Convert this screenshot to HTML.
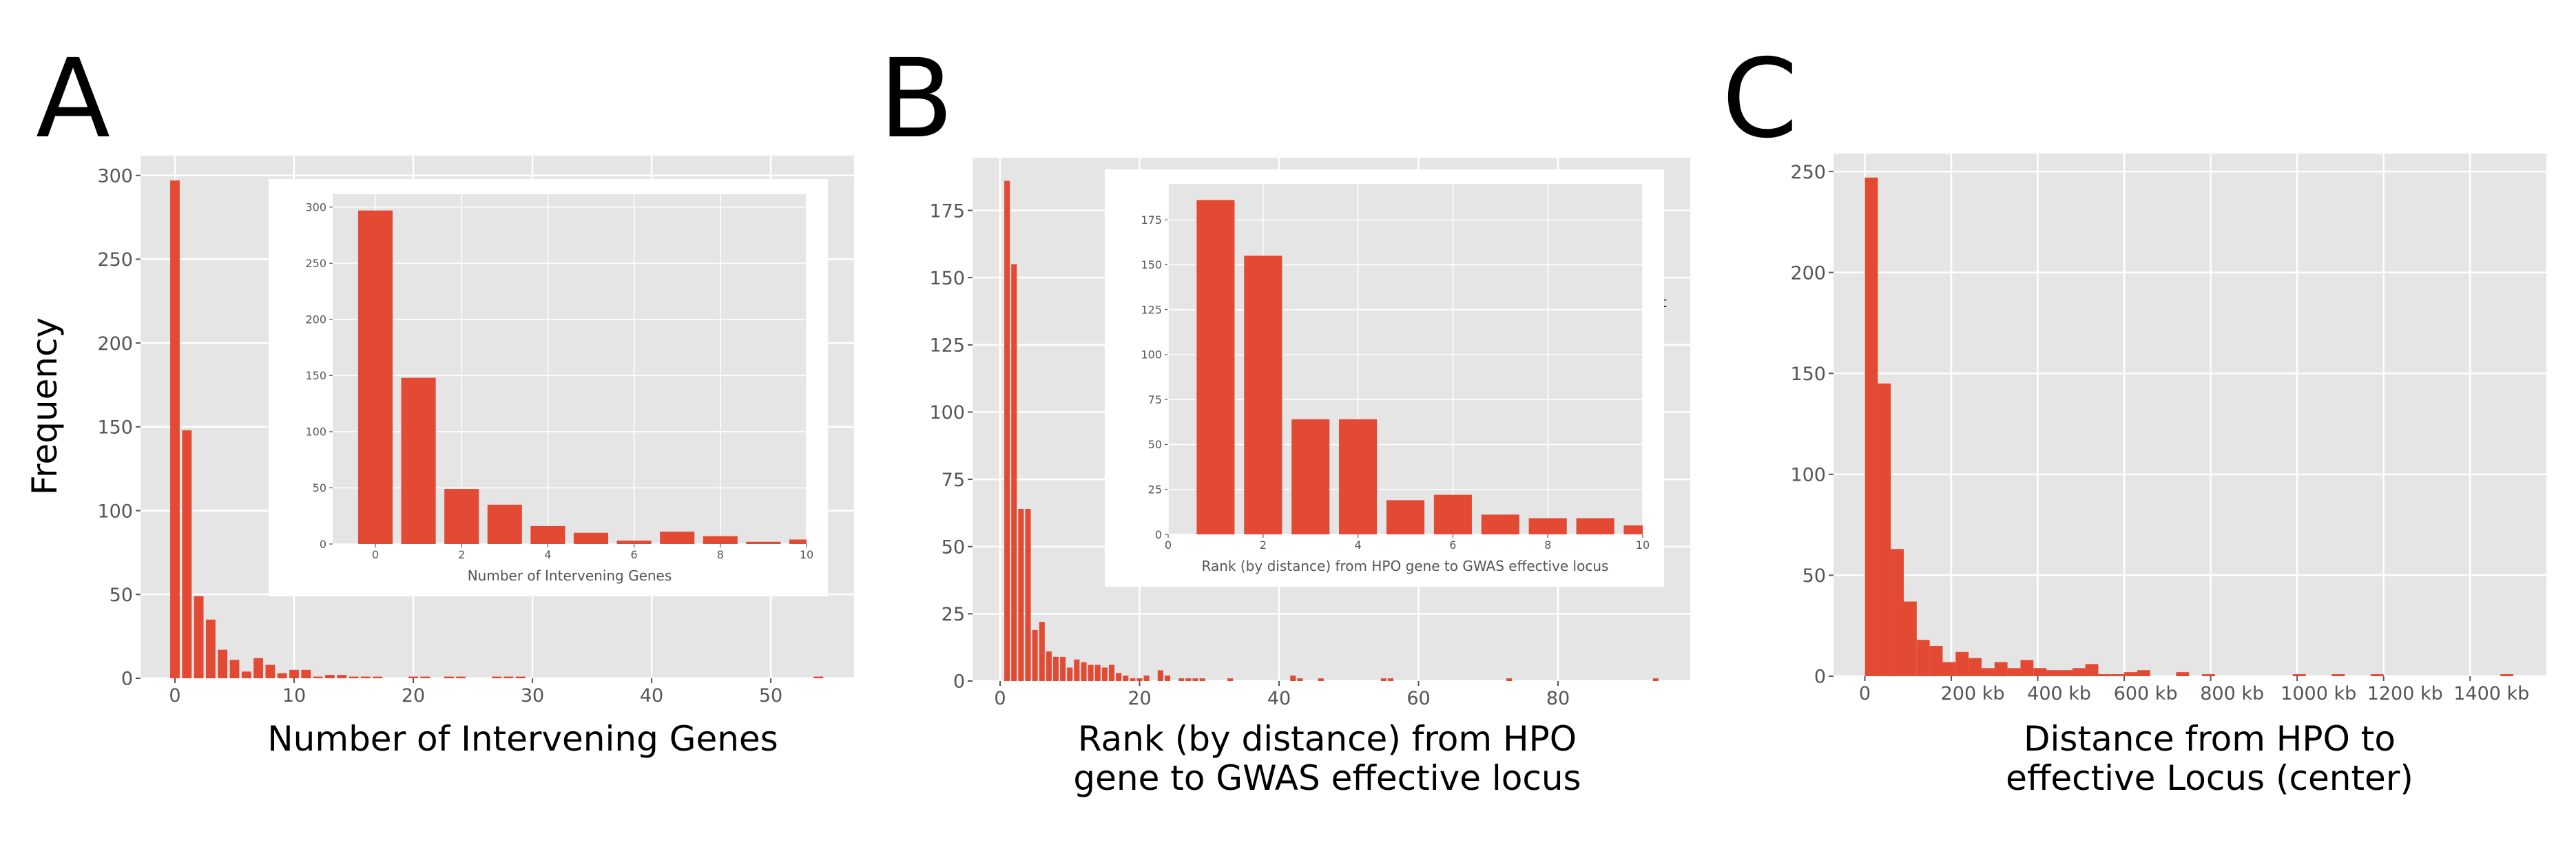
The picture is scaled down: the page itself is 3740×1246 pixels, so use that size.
<!DOCTYPE html>
<html><head><meta charset="utf-8">
<style>
html,body{margin:0;padding:0;background:#fff;}
svg{display:block;font-family:"DejaVu Sans","Liberation Sans",sans-serif;}
</style></head>
<body>
<svg id="fig" width="3740" height="1246" viewBox="0 0 3740 1246" xmlns="http://www.w3.org/2000/svg">
<rect width="3740" height="1246" fill="#fff"/>
<text x="52" y="198" font-size="158">A</text>
<text x="1276" y="198" font-size="158">B</text>
<text x="2500" y="198" font-size="158">C</text>
<text transform="translate(82,590) rotate(-90)" text-anchor="middle" font-size="50">Frequency</text>
<text x="759" y="1090" text-anchor="middle" font-size="50">Number of Intervening Genes</text>
<text x="1927" y="1090" text-anchor="middle" font-size="50">Rank (by distance) from HPO</text>
<text x="1927" y="1147" text-anchor="middle" font-size="50">gene to GWAS effective locus</text>
<text x="3208" y="1090" text-anchor="middle" font-size="50">Distance from HPO to</text>
<text x="3208" y="1147" text-anchor="middle" font-size="50">effective Locus (center)</text>
<g id="layer"></g>
</svg>
<script>
// ---- data ----
const aCategories = [0,1,2,3,4,5,6,7,8,9,10,11,12,13,14,15,16,17,20,21,23,24,27,28,29,54];
const aValues     = [297,148,49,35,17,11,4,12,8,3,5,5,1,2,2,1,1,1,1,1,1,1,1,1,1,1];
const aInsetCategories = [0,1,2,3,4,5,6,7,8,9,10];
const aInsetValues     = [297,148,49,35,16,10,3,11,7,2,4];
const aYTicks = [0,50,100,150,200,250,300];
const aXTicks = [0,10,20,30,40,50];
const aInsetXTicks = [0,2,4,6,8,10];

const bCategories = [1,2,3,4,5,6,7,8,9,10,11,12,13,14,15,16,17,18,19,20,21,23,24,26,27,28,29,33,42,43,46,55,56,73,94];
const bValues     = [186,155,64,64,19,22,11,9,9,5,8,7,6,6,5,6,3,2,1,1,2,4,2,1,1,1,1,1,2,1,1,1,1,1,1];
const bInsetCategories = [1,2,3,4,5,6,7,8,9,10];
const bInsetValues     = [186,155,64,64,19,22,11,9,9,5];
const bYTicks = [0,25,50,75,100,125,150,175];
const bXTicks = [0,20,40,60,80];
const bInsetXTicks = [0,2,4,6,8,10];

const cBinCounts = [247,145,63,37,18,15,7,12,9,4,7,4,8,4,3,3,4,6,1,1,2,3,0,0,2,0,1,0,0,0,0,0,0,1,0,0,1,0,0,1,0,0,0,0,0,0,0,0,0,1];
const cBinWidthKb = 30;
const cYTicks = [0,50,100,150,200,250];
const cXTicks = [0,200,400,600,800,1000,1200,1400];
const cXTickLabels = ["0","200 kb","400 kb","600 kb","800 kb","1000 kb","1200 kb","1400 kb"];

// ---- drawing ----
const NS = "http://www.w3.org/2000/svg";
const layer = document.getElementById('layer');
function mk(tag, attrs, parent){
  const e = document.createElementNS(NS, tag);
  for (const k in attrs) e.setAttribute(k, attrs[k]);
  (parent||layer).appendChild(e);
  return e;
}
function lin(d0,d1,r0,r1){ return v => r0 + (v-d0)/(d1-d0)*(r1-r0); }

function axes(p){
  const g = mk('g',{});
  
  
  const bg = mk('rect',{x:p.L,y:p.T,width:p.R-p.L,height:p.B-p.T,fill:'#E5E5E5'},g);
  
  
  const x = lin(p.xmin,p.xmax,p.L,p.R), y = lin(p.ymin,p.ymax,p.B,p.T);
  p.yt.forEach(v=>{
    const gl = mk('line',{x1:p.L,x2:p.R,y1:y(v),y2:y(v),stroke:'#fff','stroke-width':p.gw},g);
    
    
    mk('line',{x1:p.L-p.tl,x2:p.L,y1:y(v),y2:y(v),stroke:'#555','stroke-width':p.gw*0.8},g);
    const t = mk('text',{x:p.L-p.tl-4,y:y(v)+p.fs*0.36,'text-anchor':'end','font-size':p.fs,fill:'#555'},g);
    t.textContent = v;
    
    
  });
  p.xt.forEach((v,i)=>{
    const gl = mk('line',{x1:x(v),x2:x(v),y1:p.T,y2:p.B,stroke:'#fff','stroke-width':p.gw},g);
    
    
    mk('line',{x1:x(v),x2:x(v),y1:p.B,y2:p.B+p.tl,stroke:'#555','stroke-width':p.gw*0.8},g);
    const lbl = p.xl ? p.xl[i] : String(v);
    const dx = (p.xl && lbl.indexOf('kb')>=0) ? p.fs*1.15 : 0;
    const t = mk('text',{x:x(v)+dx,y:p.B+p.tl+p.fs*1.0,'text-anchor':'middle','font-size':p.fs,fill:'#555'},g);
    t.textContent = lbl;
    
    
  });
  const clipId = 'clip-'+p.name;
  const cp = mk('clipPath',{id:clipId},g);
  mk('rect',{x:p.L,y:p.T,width:p.R-p.L,height:p.B-p.T},cp);
  const bars = mk('g',{'clip-path':'url(#'+clipId+')'},g);
  if (p.cats){
    p.cats.forEach((c,i)=>{
      const v = p.vals[i];
      const r = mk('rect',{x:x(c-0.4),y:y(v),width:x(c+0.4)-x(c-0.4),height:y(0)-y(v),fill:'#E24A33'},bars);
      
      
    });
  } else {
    p.bins.forEach((v,i)=>{
      if (!v) return;
      const x0 = x(i*p.bw), x1 = x((i+1)*p.bw);
      const r = mk('rect',{x:x0,y:y(v),width:x1-x0,height:y(0)-y(v),fill:'#E24A33'},bars);
      
      
    });
  }
  return g;
}
function insetBox(name,x0,y0,x1,y1){
  const r = mk('rect',{x:x0,y:y0,width:x1-x0,height:y1-y0,fill:'#fff'});
  
  
}

// Panel A main
axes({name:'panel-a-axes',L:204,R:1240,T:226,B:985,xmin:-2.89,xmax:56.99,ymin:0,ymax:311.8,
  yt:aYTicks,xt:aXTicks,cats:aCategories,vals:aValues,fs:27,tl:7,gw:2.5});
insetBox('panel-a-inset',390,260,1202,866);
axes({name:'panel-a-inset-axes',L:483,R:1171,T:282,B:790,xmin:-0.99,xmax:10,ymin:0,ymax:311.5,
  yt:aYTicks,xt:aInsetXTicks,cats:aInsetCategories,vals:aInsetValues,fs:16,tl:5,gw:1.5});
(function(){const t=mk('text',{x:827,y:843,'text-anchor':'middle','font-size':20,fill:'#555'});t.textContent='Number of Intervening Genes';

})();

// Panel B main
axes({name:'panel-b-axes',L:1412,R:2454,T:229,B:989,xmin:-3.95,xmax:98.96,ymin:0,ymax:194.6,
  yt:bYTicks,xt:bXTicks,cats:bCategories,vals:bValues,fs:27,tl:7,gw:2.5});
(function(){const t=mk('text',{x:2412,y:446,'font-size':20,fill:'#000'});t.textContent='t';

})();
insetBox('panel-b-inset',1604,246,2416,852);
axes({name:'panel-b-inset-axes',L:1696,R:2385,T:267,B:776,xmin:0,xmax:10,ymin:0,ymax:195,
  yt:bYTicks,xt:bInsetXTicks,cats:bInsetCategories,vals:bInsetValues,fs:16,tl:5,gw:1.5});
(function(){const t=mk('text',{x:2040,y:829,'text-anchor':'middle','font-size':20,fill:'#555'});t.textContent='Rank (by distance) from HPO gene to GWAS effective locus';

})();

// Panel C
axes({name:'panel-c-axes',L:2662,R:3697,T:223,B:982,xmin:-72.5,xmax:1576.5,ymin:0,ymax:258.9,
  yt:cYTicks,xt:cXTicks,xl:cXTickLabels,bins:cBinCounts,bw:cBinWidthKb,fs:27,tl:7,gw:2.5});
</script>
</body></html>
